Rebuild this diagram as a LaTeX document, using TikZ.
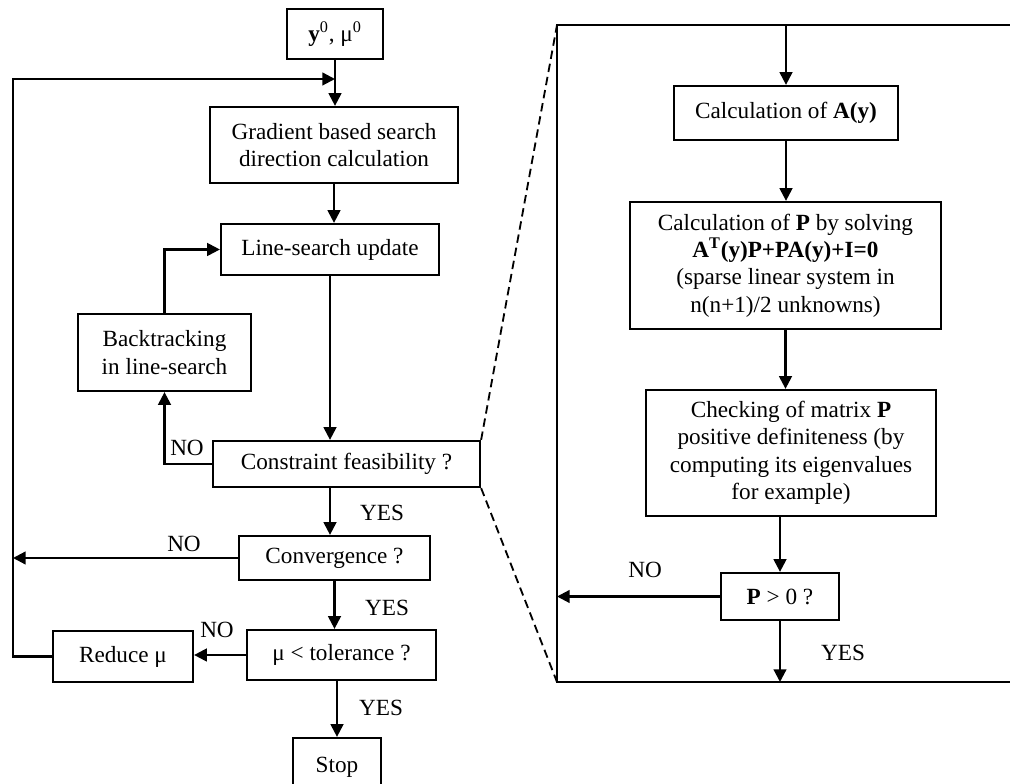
\documentclass[tikz,border=0pt]{standalone}
\usepackage{fontspec}
\setmainfont{Liberation Serif}
\usetikzlibrary{arrows.meta}

\begin{document}
\begin{tikzpicture}[>={Triangle[length=9pt,width=9pt]}]

% --- Styles ---
\tikzset{
    box/.style={draw, line width=1.6pt, align=center, inner sep=2pt, font=\fontsize{16.5}{19.5}\selectfont},
    flow/.style={->, line width=1.6pt},
    link/.style={line width=1.6pt},
    zoomline/.style={line width=1.3pt, dash pattern=on 6pt off 3.5pt},
    answer/.style={font=\fontsize{16.5}{19.5}\selectfont}
}

    \path[use as bounding box, clip] (0,0) rectangle (25.25,19.6);

    % Outer optimisation loop
    \node[box, minimum width=2.4cm, minimum height=1.25cm] (init) at (8.375,18.75) {\textbf{y}\textsuperscript{0}, μ\textsuperscript{0}};
    \node[box, minimum width=6.2cm, minimum height=1.9cm] (grad) at (8.35,15.975) {Gradient based search\\direction calculation};
    \node[box, minimum width=5.45cm, minimum height=1.275cm] (lsu) at (8.25,13.3625) {Line-search update};
    \node[box, minimum width=4.325cm, minimum height=1.925cm] (back) at (4.1125,10.7875) {Backtracking\\in line-search};
    \node[box, minimum width=6.675cm, minimum height=1.15cm] (feas) at (8.6625,8.0) {Constraint feasibility ?};
    \node[box, minimum width=4.775cm, minimum height=1.1cm] (conv) at (8.3625,5.65) {Convergence ?};
    \node[box, minimum width=4.725cm, minimum height=1.25cm] (tol) at (8.5375,3.225) {μ < tolerance ?};
    \node[box, minimum width=3.5cm, minimum height=1.275cm] (red) at (3.075,3.1875) {Reduce μ};
    \node[box, minimum width=2.2cm, minimum height=1.45cm] (stop) at (8.425,0.425) {Stop};
    \coordinate (loop) at (0.325,17.625);

    \draw[flow] (init.south) -- (init.south |- grad.north);
    \draw[flow] (grad.south) -- (grad.south |- lsu.north);
    \draw[flow] (lsu.south) -- (lsu.south |- feas.north);
    \draw[flow] (feas.west) -| (back.south);
    \draw[flow] (back.north) |- (lsu.west);
    \draw[flow] (lsu.south |- feas.south) -- (lsu.south |- conv.north);
    \draw[flow] (conv.west) -- (conv.west -| loop);
    \draw[flow] (conv.south) -- (conv.south |- tol.north);
    \draw[flow] (tol.west) -- (tol.west -| red.east);
    \draw[flow] (stop.north |- tol.south) -- (stop.north);
    \draw[flow] (red.west) -| (loop) -- (loop -| init.south);

    \node[answer] (no1) at (4.675,8.4) {NO};
    \node[answer] (yes1) at (9.55,6.775) {YES};
    \node[answer] (no2) at (4.6,6.0) {NO};
    \node[answer] (yes2) at (9.675,4.4) {YES};
    \node[answer] (no3) at (5.425,3.85) {NO};
    \node[answer] (yes3) at (9.525,1.9) {YES};

    % Feasibility check in detail
    \coordinate (tl) at (13.925,18.975);
    \coordinate (bl) at (13.925,2.55);
    \coordinate (tr) at (25.4,18.975);
    \coordinate (br) at (25.4,2.55);
    \draw[link] (tr) -- (tl) -- (bl) -- (br);
    \draw[zoomline] (feas.north east) -- (tl);
    \draw[zoomline] (feas.south east) -- (bl);

    \node[box, minimum width=5.6cm, minimum height=1.35cm] (calcA) at (19.65,16.775) {Calculation of \textbf{A(y)}};
    \node[box, minimum width=7.775cm, minimum height=3.175cm] (calcP) at (19.6375,12.9625) {Calculation of \textbf{P} by solving\\\textbf{A\textsuperscript{T}(y)P+PA(y)+I=0}\\(sparse linear system in\\n(n+1)/2 unknowns)};
    \node[box, minimum width=7.25cm, minimum height=3.15cm] (check) at (19.775,8.275) {Checking of matrix \textbf{P}\\positive definiteness (by\\computing its eigenvalues\\for example)};
    \node[box, minimum width=2.95cm, minimum height=1.175cm] (pos) at (19.5,4.6875) {\textbf{P} > 0 ?};

    \draw[flow] (calcA.north |- tl) -- (calcA.north);
    \draw[flow] (calcA.south) -- (calcA.south |- calcP.north);
    \draw[flow] (calcP.south) -- (calcP.south |- check.north);
    \draw[flow] (pos.north |- check.south) -- (pos.north);
    \draw[flow] (pos.west) -- (pos.west -| bl);
    \draw[flow] (pos.south) -- (pos.south |- bl);

    \node[answer] (no4) at (16.125,5.35) {NO};
    \node[answer] (yes4) at (21.075,3.275) {YES};

\end{tikzpicture}
\end{document}
